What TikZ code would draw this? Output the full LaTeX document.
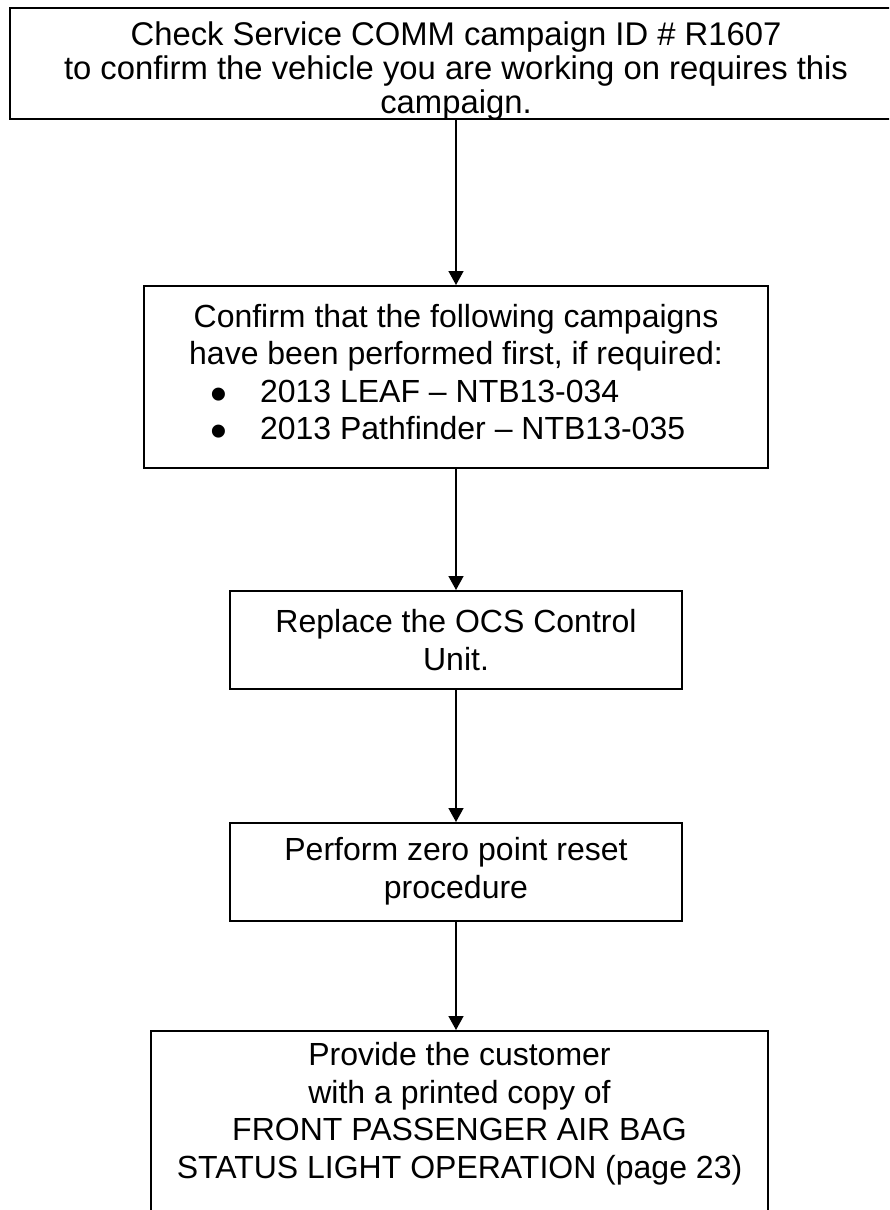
\documentclass[tikz,border=0pt]{standalone}
\usepackage{fontspec}
\usepackage{graphicx}
\setmainfont{Liberation Sans}
\usetikzlibrary{arrows.meta}
\newcommand{\tstrut}[1]{\rule{0pt}{#1}}
\newcommand{\bstrut}[1]{\rule[-#1]{0pt}{0pt}}
\newcommand{\bul}{\smash{\raisebox{-8pt}{\scalebox{1.5}{•}}}}
\begin{document}
\begin{tikzpicture}[x=1pt,y=-1pt,
  box/.style={draw=black, line width=1.5pt, inner xsep=0pt, inner ysep=0pt, align=center,
    anchor=north, font=\fontsize{32}{37.5}\selectfont},
  arr/.style={line width=1.5pt, -{Triangle[width=15pt,length=14pt]}}]
\clip (0,0) rectangle (889,1210);
\node[box, minimum width=892pt, font=\fontsize{32.8}{34}\selectfont] (b1) at (456,7)
  {\tstrut{38pt}Check Service COMM campaign ID \# R1607\\to confirm the vehicle you are working on requires this\\\smash{campaign.}\bstrut{5pt}};
\node[box, minimum width=624pt] (b2) at (456,285)
  {\tstrut{41.7pt}Confirm that the following campaigns\\have been performed first, if required:\\
   \makebox[624pt][l]{\hspace*{66pt}\makebox[50pt][l]{\bul}2013 LEAF – NTB13-034}\\
   \makebox[624pt][l]{\hspace*{66pt}\makebox[50pt][l]{\bul}2013 Pathfinder – NTB13-035}\bstrut{27.8pt}};
\node[box, minimum width=452pt] (b3) at (456,590)
  {\tstrut{42pt}Replace the OCS Control\\Unit.\bstrut{18.5pt}};
\node[box, minimum width=452pt] (b4) at (456,822)
  {\tstrut{38pt}Perform zero point reset\\procedure\bstrut{22.5pt}};
\node[box, minimum width=617pt] (b5) at (459.5,1030)
  {\tstrut{35pt}Provide the customer\\with a printed copy of\\FRONT PASSENGER AIR BAG\\STATUS LIGHT OPERATION (page 23)\bstrut{120pt}};
\draw[arr] (b1.south) -- (b2.north);
\draw[arr] (b2.south) -- (b3.north);
\draw[arr] (b3.south) -- (b4.north);
\draw[arr] (b4.south) -- (b4.south |- b5.north);
\end{tikzpicture}
\end{document}
